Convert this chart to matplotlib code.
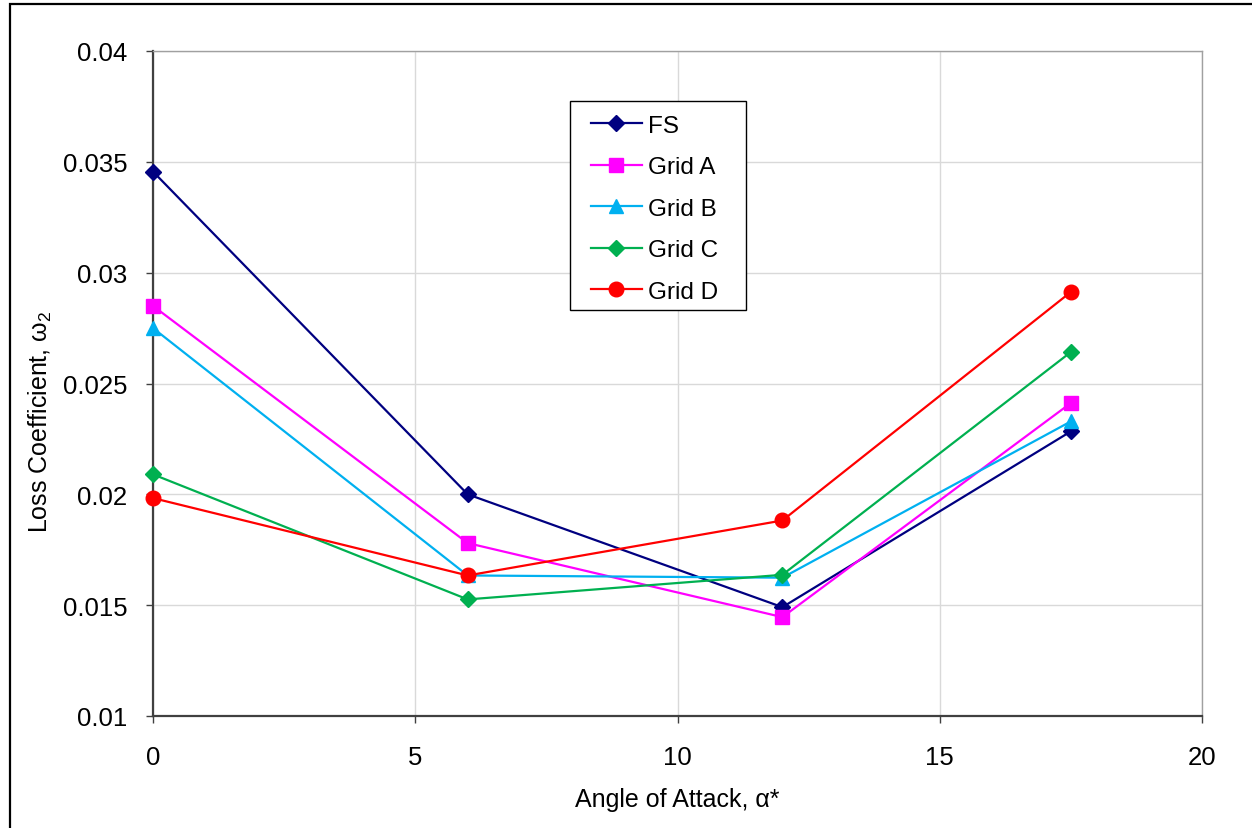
import matplotlib
matplotlib.use("Agg")
import matplotlib.pyplot as plt
from matplotlib.patches import Rectangle
from matplotlib.ticker import FuncFormatter

plt.rcParams["font.family"] = ["Liberation Sans", "DejaVu Sans"]
plt.rcParams["mathtext.default"] = "regular"

# ---------- data ----------
angles = [0, 6, 12, 17.5]
fs = [0.03456, 0.0200, 0.01491, 0.02284]
grid_a = [0.0285, 0.0178, 0.01446, 0.02412]
grid_b = [0.0275, 0.01634, 0.01624, 0.02329]
grid_c = [0.0209, 0.01526, 0.01637, 0.02642]
grid_d = [0.01983, 0.01634, 0.01882, 0.02913]

series = [
    ("FS", fs, "#000080", "D", 8),
    ("Grid A", grid_a, "#FF00FF", "s", 9.5),
    ("Grid B", grid_b, "#00B0F0", "^", 10),
    ("Grid C", grid_c, "#00B050", "D", 8),
    ("Grid D", grid_d, "#FF0000", "o", 10.5),
]

# ---------- figure ----------
fig = plt.figure(figsize=(12.52, 8.29), dpi=100)
ax = fig.add_axes([153 / 1252, 1 - 717 / 829, (1202 - 153) / 1252, (717 - 52) / 829])

for name, vals, color, marker, ms in series:
    ax.plot(angles, vals, color=color, marker=marker, markersize=ms,
            linewidth=1.6, label=name, clip_on=False, zorder=3)

ax.set_xlim(0, 20)
ax.set_ylim(0.01, 0.04)
ax.set_xticks([0, 5, 10, 15, 20])
ax.set_yticks([0.01, 0.015, 0.02, 0.025, 0.03, 0.035, 0.04])
ax.yaxis.set_major_formatter(FuncFormatter(lambda v, p: f"{v:g}"))
ax.grid(True, color="#D9D9D9", linewidth=1.0)
ax.set_axisbelow(True)

ax.tick_params(direction="out", length=5, width=1.0, color="#404040",
               labelsize=18.5)
ax.tick_params(axis="y", pad=13.5)
ax.tick_params(axis="x", pad=16)
for side in ("top", "right"):
    ax.spines[side].set_color("#A0A0A0")
    ax.spines[side].set_linewidth(1.0)
for side in ("left", "bottom"):
    ax.spines[side].set_color("#404040")
    ax.spines[side].set_linewidth(1.6)

ax.set_xlabel("Angle of Attack, α*", fontsize=18, labelpad=13)
ax.set_ylabel("Loss Coefficient, ω$_2$", fontsize=18)
ax.yaxis.set_label_coords(-0.0944, 0.4436)

# legend box drawn separately so the side padding can be wider than the top
ax.add_patch(Rectangle((0.3975, 0.6105), 0.1678, 0.3143, transform=ax.transAxes,
                       facecolor="white", edgecolor="black", linewidth=1.0,
                       zorder=4))
leg = ax.legend(loc="upper left", bbox_to_anchor=(0.4175, 0.9038),
                fontsize=17.5, frameon=False, handlelength=2.1,
                handletextpad=0.25, labelspacing=0.8, borderpad=0,
                borderaxespad=0)
leg.set_zorder(5)

# outer chart frame
fig.add_artist(Rectangle((10 / 1252, -0.1), 1.2, 1 - 5 / 829 + 0.1,
                         transform=fig.transFigure, fill=False,
                         edgecolor="black", linewidth=1.6))

fig.savefig("out.png", dpi=100)
